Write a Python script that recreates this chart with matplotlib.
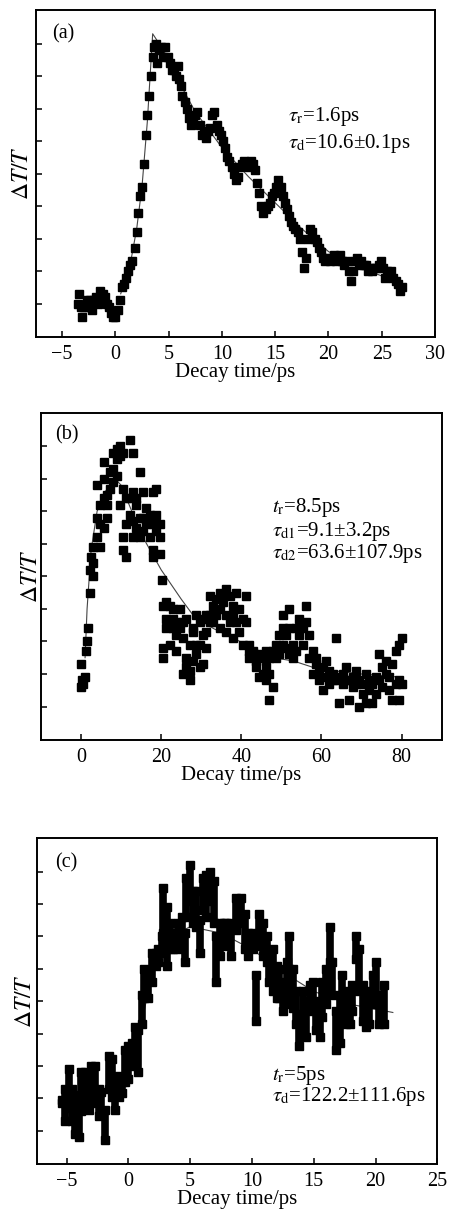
import matplotlib
matplotlib.use('Agg')
import matplotlib.pyplot as plt

# fonts: Times-like text, STIX math for tau / Delta
plt.rcParams['font.family'] = ['Liberation Serif', 'DejaVu Serif']
plt.rcParams['mathtext.fontset'] = 'stix'

# ---------------- panel (a) ----------------
a_t = [-3.5, -3.4, -3.2, -3.1, -2.9, -2.7, -2.5, -2.4, -2.2, -2.0, -1.8, -1.6, -1.4, -1.2,
       -1.0, -0.8, -0.6, -0.4, -0.2, 0.0, 0.2, 0.4, 0.6, 0.8, 1.0, 1.2, 1.4, 1.6, 1.8, 2.0,
       2.1, 2.3, 2.5, 2.7, 2.9, 3.0, 3.2, 3.3, 3.5, 3.6, 3.8, 3.9, 4.1, 4.3, 4.5, 4.7, 4.9,
       5.1, 5.3, 5.5, 5.7, 5.9, 6.0, 6.2, 6.3, 6.5, 6.7, 6.9, 7.1, 7.3, 7.5, 7.7, 7.9, 8.1,
       8.3, 8.5, 8.7, 8.9, 9.1, 9.3, 9.5, 9.7, 9.9, 10.1, 10.3, 10.5, 10.7, 10.9, 11.1, 11.3,
       11.5, 11.7, 11.9, 12.1, 12.3, 12.5, 12.7, 12.9, 13.1, 13.3, 13.5, 13.7, 13.9, 14.1,
       14.3, 14.5, 14.7, 14.9, 15.1, 15.3, 15.5, 15.7, 15.9, 16.1, 16.3, 16.5, 16.7, 16.9,
       17.1, 17.3, 17.5, 17.7, 17.9, 18.1, 18.3, 18.5, 18.7, 18.9, 19.1, 19.3, 19.5, 19.7,
       19.9, 20.1, 20.3, 20.5, 20.7, 20.9, 21.1, 21.3, 21.5, 21.7, 21.9, 22.1, 22.3, 22.5,
       22.7, 22.9, 23.1, 23.3, 23.5, 23.7, 23.9, 24.1, 24.3, 24.5, 24.7, 24.9, 25.1, 25.3,
       25.5, 25.7, 25.9, 26.1, 26.3, 26.5, 26.7, 26.9]
a_y = [0.0, 0.3, -0.1, -0.4, -0.1, 0.1, -0.1, 0.1, -0.2, 0.1, 0.2, 0.0, 0.4, 0.3,
       0.2, 0.0, -0.1, -0.3, -0.4, -0.4, -0.2, 0.1, 0.5, 0.6, 0.8, 1.0, 1.2, 1.3, 1.7, 2.2,
       2.8, 3.3, 3.6, 4.3, 5.2, 5.8, 6.4, 7.0, 7.6, 7.9, 8.0, 7.4, 7.8, 7.9, 7.6, 7.9, 7.6,
       7.4, 7.2, 7.2, 7.0, 7.3, 6.9, 6.7, 6.4, 6.2, 6.0, 5.7, 5.5, 5.6, 5.8, 5.9, 5.5, 5.2,
       5.3, 5.1, 5.3, 5.4, 5.8, 5.9, 5.5, 5.3, 5.2, 5.0, 4.8, 4.5, 4.4, 4.2, 4.0, 3.8,
       3.9, 4.2, 4.3, 4.4, 4.3, 4.2, 4.4, 4.3, 4.1, 3.7, 3.4, 3.0, 2.8, 2.9,
       3.0, 3.1, 3.3, 3.4, 3.6, 3.8, 3.6, 3.3, 3.1, 2.9, 2.7, 2.5, 2.4, 2.3,
       2.2, 2.0, 1.6, 1.1, 1.4, 2.0, 2.3, 2.2, 2.0, 1.9, 1.7, 1.6, 1.4, 1.3,
       1.4, 1.3, 1.4, 1.5, 1.3, 1.4, 1.5, 1.3, 1.2, 1.3, 1.0, 0.7, 1.0, 1.3,
       1.4, 1.2, 1.3, 1.2, 1.2, 1.0, 1.1, 1.0, 1.1, 1.1, 1.2, 1.3, 1.1, 0.8,
       1.0, 0.9, 1.0, 0.8, 0.7, 0.6, 0.4, 0.5]
a_fit_t = [0.5, 1.0, 1.5, 2.0, 2.5, 3.0, 3.5, 4.5, 6.0, 7.5, 10.0, 12.5, 15.0, 17.5, 20.0, 23.0, 27.0]
a_fit_y = [0.3, 0.8, 1.4, 2.3, 3.6, 5.6, 8.3, 7.8, 6.8, 5.9, 4.8, 3.9, 3.1, 2.3, 1.6, 1.1, 0.6]

# ---------------- panel (b) ----------------
b_t = [0.0, 0.0, 0.3, 0.6, 0.9, 1.2, 1.5, 1.8, 2.2, 2.2, 2.4, 3.1, 3.1, 3.1, 3.9, 3.9, 3.9,
       4.7, 4.7, 4.7, 5.6, 5.6, 5.6, 5.6, 6.4, 6.4, 6.4, 7.2, 7.2, 8.0, 8.0, 8.0, 8.9, 8.9,
       8.9, 9.7, 9.7, 9.7, 10.5, 10.5, 10.5, 10.5, 11.3, 11.3, 11.3, 12.2, 12.2, 12.2, 13.0,
       13.0, 13.0, 13.0, 13.8, 13.8, 13.8, 14.7, 14.7, 14.7, 15.5, 15.5, 15.5, 16.3, 16.3,
       17.1, 17.1, 18.0, 18.0, 18.0, 18.0, 18.8, 18.8, 18.8, 19.6, 19.6, 19.6, 20.1, 20.5,
       20.5, 20.5, 21.3, 21.3, 21.3, 22.1, 22.1, 22.1, 23.0, 23.0, 23.0, 23.8, 23.8, 23.8,
       24.6, 24.6, 25.5, 25.5, 25.5, 26.3, 26.3, 26.3, 27.1, 27.1, 27.1, 27.9, 27.9, 27.9,
       28.8, 28.8, 28.8, 29.6, 29.6, 29.6, 30.4, 30.4, 30.4, 31.2, 31.2, 31.2, 32.1, 32.1,
       32.1, 32.9, 32.9, 33.7, 33.7, 34.6, 34.6, 34.6, 35.4, 35.4, 36.2, 36.2, 36.2, 37.1,
       37.1, 37.9, 37.9, 37.9, 38.7, 38.7, 39.5, 39.5, 40.4, 40.4, 41.2, 41.2, 42.0, 42.0,
       42.0, 42.9, 42.9, 43.7, 43.7, 44.5, 44.5, 45.4, 45.4, 46.2, 46.2, 46.2, 47.0, 47.0,
       47.0, 47.8, 47.8, 48.7, 48.7, 49.5, 49.5, 50.3, 50.3, 50.3, 51.2, 51.2, 52.0, 52.0,
       52.0, 52.8, 52.8, 53.6, 53.6, 54.5, 54.5, 55.3, 55.3, 56.1, 56.1, 57.0, 57.0, 57.8,
       57.8, 58.6, 58.6, 59.4, 59.4, 60.3, 60.3, 61.1, 61.1, 61.9, 61.9, 62.8, 62.8, 63.6,
       63.6, 64.4, 64.4, 65.3, 65.3, 66.1, 66.1, 66.9, 66.9, 67.8, 67.8, 68.6, 68.6, 69.4,
       69.4, 70.3, 70.3, 71.1, 71.1, 71.9, 71.9, 72.7, 72.7, 73.6, 73.6, 74.4, 74.4, 75.2,
       75.2, 76.0, 76.0, 76.9, 76.9, 77.7, 77.7, 78.5, 78.5, 79.4, 79.4, 79.4, 80.2, 80.2]
b_y = [1.3, 0.6, 0.8, 0.7, 0.9, 1.7, 2.0, 2.4, 3.5, 4.2, 4.6, 4.9, 4.4, 4.0, 5.8, 5.2, 6.8,
       5.6, 6.2, 4.9, 7.0, 6.4, 5.5, 7.5, 6.5, 5.8, 6.2, 6.7, 7.2, 7.8, 7.3, 6.9, 7.9, 7.6,
       7.1, 8.0, 7.7, 6.2, 7.8, 6.7, 4.8, 5.2, 6.4, 5.6, 4.6, 8.2, 6.4, 5.9, 6.6,
       5.7, 5.2, 7.8, 6.4, 5.5, 6.2, 7.2, 5.8, 5.2, 5.8, 6.6, 5.4, 6.1, 5.6,
       5.9, 5.2, 6.6, 5.6, 4.8, 4.6, 5.9, 5.4, 6.7, 5.6, 5.2, 4.7, 3.9, 3.1,
       1.8, 1.5, 2.7, 2.4, 3.2, 2.6, 1.9, 3.1, 3.0, 2.4, 2.7, 1.7, 2.6, 2.2,
       3.0, 2.4, 2.6, 2.1, 1.0, 2.7, 1.2, 1.5, 0.8, 1.9, 1.1, 1.4, 2.3, 2.4,
       1.6, 1.9, 2.8, 2.6, 1.2, 1.9, 2.2, 1.3, 2.7, 2.8, 2.3, 1.8, 3.4, 2.8,
       2.6, 3.1, 2.6, 3.3, 2.8, 3.5, 3.0, 2.4, 3.2, 3.4, 3.6, 2.8, 2.3, 3.4,
       2.6, 3.1, 2.8, 2.1, 3.5, 2.6, 3.0, 2.3, 2.7, 1.9, 3.4, 2.6, 1.7, 1.5,
       1.9, 1.7, 1.6, 1.4, 1.2, 1.6, 0.9, 1.0, 1.5, 1.7, 1.2, 0.8, 1.5, 1.0,
       0.2, 1.7, 0.6, 1.9, 1.5, 2.2, 1.6, 2.4, 2.8, 1.9, 1.8, 2.2, 3.0, 1.6,
       2.4, 1.9, 1.5, 2.4, 1.7, 2.7, 2.2, 2.4, 1.9, 3.1, 2.6, 2.2, 1.5, 1.7,
       1.0, 1.5, 1.3, 1.1, 0.8, 1.2, 0.5, 0.9, 1.4, 1.1, 0.7, 1.0, 0.8, 2.1,
       0.8, 0.9, 0.1, 1.0, 0.7, 1.2, 0.8, 0.8, 0.2, 0.9, 0.6, 1.1, 0.7, 0.8,
       0.0, 0.7, 0.4, 1.0, 0.1, 0.8, 0.5, 0.7, 0.1, 0.9, 0.4, 1.6, 0.8, 1.2,
       0.6, 1.0, 1.4, 0.9, 0.5, 1.3, 0.2, 1.7, 0.7, 1.9, 0.8, 0.2, 2.1, 0.7]
b_fit_t = [1.0, 1.5, 2.5, 4.0, 6.0, 8.5, 10.0, 12.0, 15.0, 20.0, 25.0, 28.0, 33.0, 38.0,
           43.0, 48.0, 53.0, 58.0, 63.0, 70.0, 80.0]
b_fit_y = [1.5, 3.0, 4.8, 6.0, 6.6, 7.0, 6.8, 6.2, 5.3, 4.2, 3.3, 2.8, 2.4, 2.1,
           1.8, 1.5, 1.4, 1.2, 1.1, 1.0, 0.9]

# ---------------- panel (c): per time, lower / upper edge of the dense cloud ----------------
c_t = [-5.4, -5.1, -4.8, -4.6, -4.3, -4.0, -3.8, -3.5, -3.2, -3.0, -2.7, -2.4, -2.2, -1.9,
       -1.6, -1.3, -1.1, -0.8, -0.5, -0.3, 0.0, 0.3, 0.5, 0.8, 1.1, 1.3, 1.6, 1.9, 2.2, 2.4,
       2.7, 2.8, 3.1, 3.4, 3.6, 4.0, 4.3, 4.6, 4.7, 5.0, 5.2, 5.5, 5.8, 6.0, 6.3, 6.6, 6.9,
       7.1, 7.4, 7.7, 7.9, 8.3, 8.7, 9.1, 9.4, 9.7, 10.1, 10.3, 10.6, 10.9, 11.2, 11.4, 11.7,
       12.0, 12.2, 12.5, 12.8, 13.0, 13.3, 13.6, 13.8, 14.1, 14.4, 14.7, 14.9, 15.2, 15.5,
       15.7, 16.0, 16.3, 16.5, 16.8, 17.1, 17.3, 17.6, 17.9, 18.1, 18.4, 18.7, 19.0, 19.2,
       19.5, 19.8, 20.0, 20.3, 20.7]
c_lo = [0.85, 0.3, 0.7, 0.3, -0.1, -0.2, 0.6, 0.7, 0.65, 0.85, 0.95, 0.45, 0.55, -0.3,
        1.3, 1.05, 0.65, 1.05, 1.15, 1.5, 1.6, 2.0, 2.3, 1.8, 3.3, 4.1, 4.1, 4.6, 5.1, 5.2,
        5.5, 6.1, 5.1, 5.6, 5.6, 5.6, 5.9, 5.2, 6.6, 7.1, 6.4, 6.3, 5.5, 6.8, 6.6, 7.1, 6.4,
        4.6, 5.4, 6.0, 5.7, 5.4, 6.2, 6.4, 5.6, 5.4, 5.6, 3.4, 5.7, 5.4, 5.2, 4.6, 4.3,
        4.1, 4.1, 3.7, 3.9, 5.0, 3.8, 3.3, 2.6, 3.1, 2.9, 3.7, 3.9, 3.1, 2.9,
        3.5, 3.9, 5.2, 4.2, 2.5, 2.7, 3.8, 3.3, 3.3, 3.7, 5.3, 4.3, 3.4, 3.2,
        3.3, 3.9, 3.9, 3.3, 3.3]
c_hi = [0.95, 1.3, 1.9, 1.3, 1.1, 0.75, 1.8, 1.8, 1.7, 2.0, 2.0, 1.3, 1.2, 0.65,
        2.3, 2.2, 1.6, 1.7, 1.5, 2.5, 2.6, 2.7, 3.2, 3.1, 4.2, 5.0, 4.7, 5.5, 5.5, 5.6,
        6.0, 7.5, 6.9, 6.4, 6.1, 6.4, 6.6, 6.1, 7.8, 8.2, 7.4, 7.4, 6.5, 7.8, 7.9, 8.0, 7.7,
        6.0, 6.4, 6.4, 6.4, 6.4, 7.2, 7.2, 6.7, 6.1, 6.1, 4.8, 6.7, 6.4, 6.0, 5.4, 5.6,
        5.1, 5.0, 4.6, 5.2, 6.0, 5.0, 4.3, 3.6, 4.3, 4.0, 4.5, 4.6, 4.0, 3.9,
        4.6, 5.0, 6.3, 5.2, 3.7, 4.2, 4.8, 4.3, 3.9, 4.5, 6.0, 5.6, 4.5, 4.0,
        4.3, 4.8, 5.2, 4.2, 4.5]
c_fit_t = [-5.0, -1.0, 0.0, 1.0, 2.0, 3.0, 5.0, 7.5, 10.0, 12.5, 15.0, 18.0, 21.4]
c_fit_y = [1.0, 1.2, 1.6, 3.2, 5.0, 5.9, 6.3, 6.1, 5.6, 4.9, 4.3, 3.9, 3.65]

yticks = [0, 1, 2, 3, 4, 5, 6, 7, 8]
fs_tick = 14.5
fs_lab = 15
fs_txt = 15
fs_tag = 14.5
ms = 5.3

fig = plt.figure(figsize=(4.49, 12.11), dpi=100)
ax_a = fig.add_axes([0.0802, 0.7217, 0.8886, 0.2700])
ax_b = fig.add_axes([0.0913, 0.3889, 0.8924, 0.2703])
ax_c = fig.add_axes([0.0831, 0.0388, 0.8909, 0.2690])


def style_axes(ax, xlim, xticks, ylab_x):
    ax.set_xlim(*xlim)
    ax.set_ylim(-1.03, 9.03)
    ax.set_xticks(xticks)
    ax.set_yticks(yticks)
    ax.set_yticklabels([])
    ax.tick_params(axis='x', direction='in', length=4, width=1.1, pad=6,
                   labelsize=fs_tick)
    ax.tick_params(axis='y', direction='in', length=4.5, width=1.1)
    for s in ax.spines.values():
        s.set_linewidth(1.4)
    ax.set_xlabel('Decay time/ps', fontsize=fs_lab, labelpad=-1)
    ax.set_ylabel(r'$\Delta T/T$', fontsize=17)
    ax.yaxis.set_label_coords(ylab_x, 0.5)


# (a)
ax_a.plot(a_fit_t, a_fit_y, color='#444444', lw=0.8, zorder=1)
ax_a.plot(a_t, a_y, 's', color='black', ms=ms, zorder=2)
style_axes(ax_a, (-7.45, 30), [-5, 0, 5, 10, 15, 20, 25, 30], -0.008)
ax_a.text(0.04, 0.927, '(a)', transform=ax_a.transAxes, fontsize=fs_tag, va='center')
ax_a.text(0.632, 0.673, r'$\tau_\mathrm{r}$=1.6ps', transform=ax_a.transAxes,
          fontsize=fs_txt, va='center')
ax_a.text(0.632, 0.593, r'$\tau_\mathrm{d}$=10.6±0.1ps', transform=ax_a.transAxes,
          fontsize=fs_txt, va='center')

# (b)
ax_b.plot(b_fit_t, b_fit_y, color='#444444', lw=0.8, zorder=1)
ax_b.plot(b_t, b_y, 's', color='black', ms=ms + 0.5, zorder=2)
style_axes(ax_b, (-10, 90), [0, 20, 40, 60, 80], 0.002)
ax_b.text(0.035, 0.932, '(b)', transform=ax_b.transAxes, fontsize=fs_tag, va='center')
ax_b.text(0.576, 0.709, r'$t_\mathrm{r}$=8.5ps', transform=ax_b.transAxes,
          fontsize=fs_txt, va='center')
ax_b.text(0.576, 0.636, r'$\tau_\mathrm{d1}$=9.1±3.2ps', transform=ax_b.transAxes,
          fontsize=fs_txt, va='center')
ax_b.text(0.576, 0.571, r'$\tau_\mathrm{d2}$=63.6±107.9ps', transform=ax_b.transAxes,
          fontsize=fs_txt, va='center')

# (c)
ax_c.plot(c_fit_t, c_fit_y, color='#444444', lw=0.8, zorder=1)
ax_c.vlines(c_t, c_lo, c_hi, color='black', lw=5.5, zorder=2)
ax_c.plot(c_t, c_lo, 's', color='black', ms=ms, zorder=2)
ax_c.plot(c_t, c_hi, 's', color='black', ms=ms, zorder=2)
style_axes(ax_c, (-7.37, 25), [-5, 0, 5, 10, 15, 20, 25], -0.003)
ax_c.text(0.044, 0.924, '(c)', transform=ax_c.transAxes, fontsize=fs_tag, va='center')
ax_c.text(0.587, 0.273, r'$t_\mathrm{r}$=5ps', transform=ax_c.transAxes,
          fontsize=fs_txt, va='center')
ax_c.text(0.587, 0.206, r'$\tau_\mathrm{d}$=122.2±111.6ps', transform=ax_c.transAxes,
          fontsize=fs_txt, va='center')

fig.savefig('out.png', dpi=100)
